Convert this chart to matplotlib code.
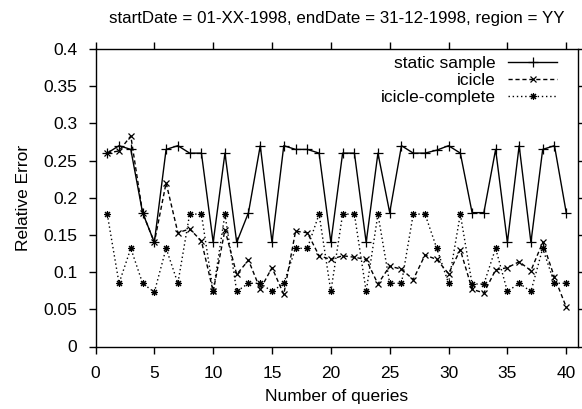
import numpy as np
import matplotlib
matplotlib.use("Agg")
import matplotlib.pyplot as plt
from matplotlib.ticker import FuncFormatter

plt.rcParams['font.family'] = ['Liberation Sans', 'DejaVu Sans']

queries = list(range(1, 41))

static_sample = [0.26, 0.27, 0.265, 0.18, 0.14, 0.265, 0.27, 0.26, 0.26, 0.14,
                 0.26, 0.14, 0.18, 0.27, 0.14, 0.27, 0.265, 0.265, 0.26, 0.14,
                 0.26, 0.26, 0.14, 0.26, 0.18, 0.27, 0.26, 0.26, 0.264, 0.27,
                 0.26, 0.18, 0.18, 0.265, 0.14, 0.27, 0.14, 0.265, 0.27, 0.18]

icicle = [0.26, 0.263, 0.283, 0.18, 0.14, 0.22, 0.153, 0.158, 0.142, 0.074,
          0.157, 0.097, 0.116, 0.077, 0.106, 0.07, 0.155, 0.153, 0.122, 0.117,
          0.122, 0.12, 0.117, 0.084, 0.108, 0.104, 0.09, 0.123, 0.117, 0.098,
          0.13, 0.077, 0.072, 0.103, 0.106, 0.114, 0.102, 0.14, 0.093, 0.053]

icicle_complete = [0.178, 0.085, 0.132, 0.085, 0.073, 0.132, 0.085, 0.178, 0.178, 0.074,
                   0.178, 0.074, 0.085, 0.085, 0.074, 0.085, 0.132, 0.132, 0.178, 0.074,
                   0.178, 0.178, 0.074, 0.178, 0.085, 0.085, 0.178, 0.178, 0.132, 0.085,
                   0.178, 0.084, 0.084, 0.132, 0.074, 0.085, 0.074, 0.132, 0.085, 0.085]

fig = plt.figure(figsize=(5.82, 4.09), dpi=100)
ax = fig.add_axes([95.5/582, 1 - 346.5/409, 482.5/582, 297.5/409])

ax.plot(queries, static_sample, color='black', lw=1.0, marker='+', ms=7, mew=0.9,
        label='static sample')
ax.plot(queries, icicle, color='black', lw=1.0, linestyle=(0, (3, 2)), marker='x', ms=5, mew=0.9,
        label='icicle')
ax.plot(queries, icicle_complete, color='black', lw=1.0, linestyle=(0, (1, 2)),
        marker=(8, 2, 0), ms=5, mew=0.8, label='icicle-complete')

ax.set_xlim(0, 41)
ax.set_ylim(0, 0.4)
ax.set_xticks(np.arange(0, 41, 5))
ax.set_yticks(np.arange(0, 0.401, 0.05))
ax.yaxis.set_major_formatter(FuncFormatter(lambda v, p: '%g' % round(v, 2)))
ax.tick_params(direction='out', top=True, right=True, length=5, width=1,
               labelsize=12.5, colors='black')
ax.tick_params(axis='y', pad=8)
ax.tick_params(axis='x', pad=9)
for s in ax.spines.values():
    s.set_linewidth(1.0)

ax.set_xlabel('Number of queries', fontsize=12.5, labelpad=6)
ax.set_ylabel('Relative Error', fontsize=12.5, labelpad=9)
ax.set_title('startDate = 01-XX-1998, endDate = 31-12-1998, region = YY', fontsize=12.2, pad=19)

ax.legend(loc='upper right', bbox_to_anchor=(0.9565, 0.976), frameon=False, markerfirst=False,
          fontsize=12.5, handlelength=2.8, handletextpad=0.75, labelspacing=0.1,
          borderpad=0, borderaxespad=0)

fig.savefig('out.png', dpi=100)
